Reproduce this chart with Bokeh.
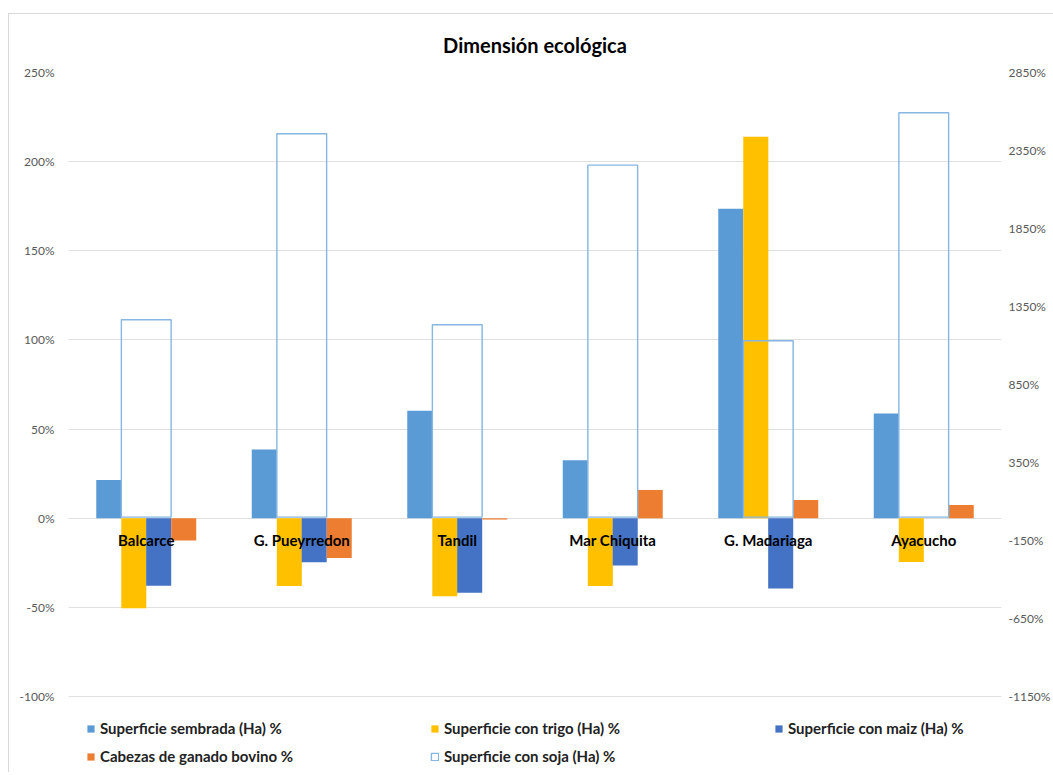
from bokeh.plotting import figure
from bokeh.models import (FactorRange, Range1d, LinearAxis, FixedTicker, PrintfTickFormatter,
                          Legend, LegendItem, ColumnDataSource)
from bokeh.transform import dodge
from bokeh.core.properties import value
from bokeh.embed import file_html
from bokeh.resources import INLINE

categories = ["Balcarce", "G. Pueyrredon", "Tandil", "Mar Chiquita", "G. Madariaga", "Ayacucho"]
sembrada = [21.5, 38.6, 60.3, 32.5, 173.6, 58.8]
trigo = [-50.4, -38.0, -43.7, -38.0, 214.0, -24.5]
maiz = [-37.9, -24.6, -41.8, -26.5, -39.4, 0.0]
bovino = [-12.5, -22.2, -0.7, 15.9, 10.2, 7.5]
soja = [1265, 2457, 1233, 2256, 1130, 2592]
left_ticks = [-100, -50, 0, 50, 100, 150, 200, 250]
right_ticks = [-1150, -650, -150, 350, 850, 1350, 1850, 2350, 2850]
series_names = ["Superficie sembrada (Ha) %", "Superficie con trigo (Ha) %",
                "Superficie con maiz (Ha) %", "Cabezas de ganado bovino %",
                "Superficie con soja (Ha) %"]
title_text = "Dimensión ecológica"

FONT = "Lato"

src = ColumnDataSource(dict(cat=categories, sembrada=sembrada, trigo=trigo, maiz=maiz,
                            bovino=bovino, soja=soja, zero=[0] * len(categories)))

# frame extends below the last gridline to host the legend
p = figure(x_range=FactorRange(*categories, range_padding=0), y_range=Range1d(-142, 250),
           width=1045, height=759, output_backend="svg", toolbar_location=None,
           min_border_left=59, min_border_right=53, min_border_top=58, min_border_bottom=2)
p.margin = (13, 0, 0, 8)
p.styles = {"border-left": "1px solid #D9D9D9", "border-top": "1px solid #D9D9D9"}

p.title.text = title_text
p.title.align = "center"
p.title.text_font = FONT
p.title.text_font_size = "20px"
p.title.text_font_style = "bold"
p.title.text_color = "black"
p.title.standoff = 31

p.extra_y_ranges = {"right": Range1d(-1631, 2850)}
raxis = LinearAxis(y_range_name="right", ticker=FixedTicker(ticks=right_ticks),
                   formatter=PrintfTickFormatter(format="%d%%"))
p.add_layout(raxis, "right")

p.yaxis[0].ticker = FixedTicker(ticks=left_ticks)
p.yaxis[0].formatter = PrintfTickFormatter(format="%d%%")
for ax in p.yaxis:
    ax.axis_line_color = None
    ax.major_tick_line_color = None
    ax.minor_tick_line_color = None
    ax.major_tick_out = 0
    ax.major_tick_in = 0
    ax.minor_tick_out = 0
    ax.minor_tick_in = 0
    ax.major_label_text_font = FONT
    ax.major_label_text_font_size = "12px"
    ax.major_label_text_color = "#595959"
p.yaxis[0].major_label_standoff = 14
raxis.major_label_standoff = 7
p.xaxis.visible = False
p.xgrid.visible = False
p.ygrid.ticker = FixedTicker(ticks=left_ticks)
p.ygrid.grid_line_color = "#E0E0E0"
p.outline_line_color = None

colors = ["#5B9BD5", "#FFC000", "#4472C4", "#ED7D31"]
keys = ["sembrada", "trigo", "maiz", "bovino"]
offsets = [-0.241, -0.080, 0.080, 0.241]
w = 0.161
renderers = []
for k, c, off in zip(keys, colors, offsets):
    r = p.vbar(x=dodge("cat", off, range=p.x_range), top=k, bottom=0, width=w,
               source=src, fill_color=c, line_color=None)
    renderers.append(r)

rs = p.vbar(x="cat", top="soja", bottom=0, width=0.32, y_range_name="right",
            source=src, fill_color=None, line_color="#86B6E2", line_width=1.4)
renderers.append(rs)

p.text(x="cat", y="zero", text="cat", source=src, text_align="center",
       text_baseline="middle", y_offset=22, text_font=value(FONT),
       text_font_style="bold", text_font_size="15px", text_color="black")

legend = Legend(items=[LegendItem(label=n, renderers=[r]) for n, r in zip(series_names, renderers)],
                ncols=3, orientation="horizontal", location=(18, 5),
                glyph_width=9, glyph_height=9, label_standoff=5, label_width=322,
                label_height=20, spacing=8, padding=0, margin=0,
                border_line_color=None, background_fill_alpha=0,
                label_text_font=FONT, label_text_font_size="15px",
                label_text_font_style="bold", label_text_color="#222222")
p.add_layout(legend)

open("out.html", "w").write(file_html(p, INLINE))
